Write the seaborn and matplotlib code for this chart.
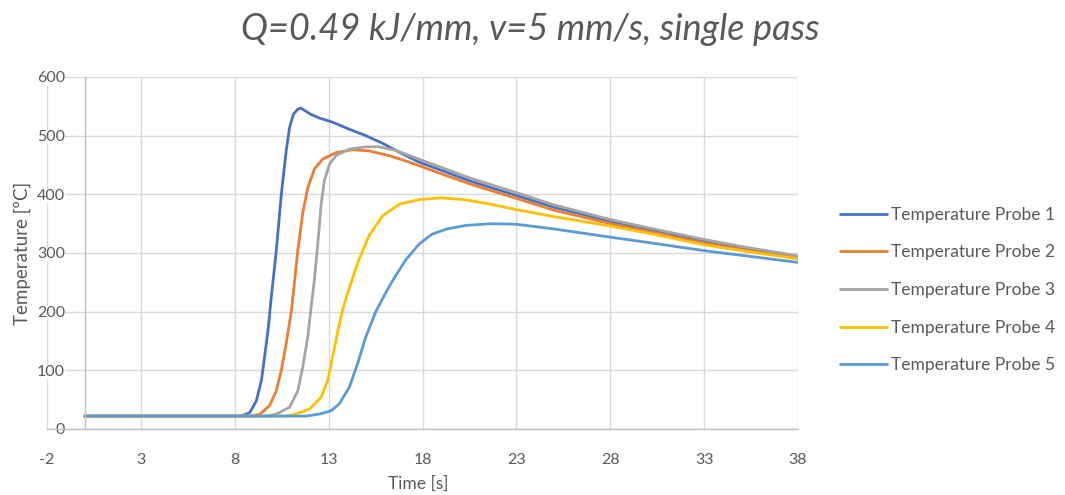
import numpy as np
import pandas as pd
import matplotlib
matplotlib.use("Agg")
import matplotlib.pyplot as plt
import seaborn as sns

# ---- data ----
series_names = ["Temperature Probe 1", "Temperature Probe 2", "Temperature Probe 3",
                "Temperature Probe 4", "Temperature Probe 5"]

t_probe1 = [0, 8.2, 8.5, 8.8, 9.15, 9.42, 9.59, 9.77, 9.95, 10.21, 10.48, 10.74, 10.92,
            11.13, 11.36, 11.5, 11.62, 12.07, 12.51, 13.21, 14.10, 14.98, 15.87, 16.75,
            17.81, 19, 20.5, 23, 25, 28, 30, 33, 35, 38]
T_probe1 = [22, 22, 24, 28, 48, 83, 123, 168, 226, 303, 400, 474, 514,
            537, 545, 547, 545, 536, 530, 523, 511, 500, 487, 472,
            455, 441, 423, 398, 378, 354, 340, 320, 309, 293]

t_probe2 = [0, 8.8, 9.33, 9.86, 10.21, 10.48, 10.74, 11.01, 11.18, 11.36, 11.62, 11.89,
            12.24, 12.68, 13.39, 14.27, 15.16, 16.22, 17.10, 17.81, 19, 20.5, 23, 25, 28,
            30, 33, 35, 38]
T_probe2 = [22, 22, 25, 40, 65, 100, 146, 200, 250, 305, 368, 411,
            443, 460, 471, 476, 474, 466, 457, 449, 435, 418, 393, 373, 350,
            337, 317, 306, 291]

t_probe3 = [0, 9.7, 10.21, 10.92, 11.36, 11.62, 11.89, 12.07, 12.24, 12.42, 12.60, 12.77,
            13.04, 13.39, 14.10, 14.98, 15.69, 16.57, 17.81, 19, 20.5, 23, 25, 28, 30, 33,
            35, 38]
T_probe3 = [22, 22, 25.5, 37, 65, 105, 157, 208, 254, 314, 383, 423,
            451, 466, 477, 481, 481, 475, 460, 446, 428, 403, 382, 357, 343, 323,
            311, 295]

t_probe4 = [0, 10.7, 11.27, 11.98, 12.60, 12.95, 13.21, 13.48, 13.74, 14.10, 14.36, 14.63,
            15.16, 15.87, 16.75, 17.81, 19.0, 20.2, 21.5, 23, 25, 28, 30, 33, 35, 38]
T_probe4 = [22, 22, 25.5, 34, 54, 83, 123, 165, 203, 240, 265, 290,
            330, 363, 383, 391, 394, 391, 384, 374, 362, 346, 334, 314, 304, 290]

t_probe5 = [0, 11.8, 12.51, 13.13, 13.57, 14.10, 14.54, 14.98, 15.51, 16.04, 16.39, 17.10,
            17.81, 18.5, 19.3, 20.3, 21.7, 23, 25, 28, 30, 33, 35, 38]
T_probe5 = [22, 22, 25.5, 31, 43, 71, 111, 157, 200, 232, 252, 288,
            315, 332, 341, 347, 350, 349, 341, 327, 318, 304, 296, 284]

x_ticks = [-2, 3, 8, 13, 18, 23, 28, 33, 38]
y_ticks = [0, 100, 200, 300, 400, 500, 600]

colors = ["#4472C4", "#ED7D31", "#A5A5A5", "#FFC000", "#5B9BD5"]

frames = []
for name, t, T in zip(series_names,
                      [t_probe1, t_probe2, t_probe3, t_probe4, t_probe5],
                      [T_probe1, T_probe2, T_probe3, T_probe4, T_probe5]):
    frames.append(pd.DataFrame({"Time": t, "Temperature": T, "Probe": name}))
df = pd.concat(frames, ignore_index=True)

# ---- style ----
sns.set_theme(style="white")
plt.rcParams["font.family"] = ["Lato", "DejaVu Sans"]
plt.rcParams["axes.unicode_minus"] = False
text_col = "#595959"

fig = plt.figure(figsize=(10.65, 4.95), dpi=100)
ax = fig.add_axes([47/1065, 1-429/495, 751/1065, 352/495])

sns.lineplot(data=df, x="Time", y="Temperature", hue="Probe", palette=colors,
             hue_order=series_names, sort=False, estimator=None, linewidth=2.0,
             solid_joinstyle="round", ax=ax)

ax.set_xlim(-2, 38)
ax.set_ylim(0, 600)
ax.set_xticks(x_ticks)
ax.set_yticks(y_ticks)
ax.grid(True, color="#D9D9D9", linewidth=1.0)
ax.set_axisbelow(True)

for s in ["top", "right"]:
    ax.spines[s].set_visible(False)
ax.spines["left"].set_position(("data", 0))
ax.spines["left"].set_color("#BFBFBF")
ax.spines["bottom"].set_color("#BFBFBF")
ax.spines["left"].set_linewidth(1.0)
ax.spines["bottom"].set_linewidth(1.0)

ax.tick_params(axis="x", length=0, pad=17, labelsize=11.5, labelcolor=text_col)
ax.tick_params(axis="y", length=0, pad=14, labelsize=11.5, labelcolor=text_col)
for lab in ax.get_yticklabels():
    lab.set_bbox(dict(facecolor="white", edgecolor="none", pad=0))

ax.set_xlabel("Time [s]", fontsize=12.5, color=text_col)
ax.set_ylabel("Temperature [ºC]", fontsize=13.5, color=text_col)
ax.xaxis.set_label_coords((418-47)/751, (429-484)/352)
ax.xaxis.label.set_va("center")
ax.yaxis.set_label_coords((22-47)/751, 0.5)
ax.yaxis.label.set_va("center")

fig.suptitle("Q=0.49 kJ/mm, v=5 mm/s, single pass", x=530/1065, y=1-30/495,
             va="center", fontsize=26, fontstyle="italic", fontweight="normal", color=text_col)

sns.move_legend(ax, loc="center left", bbox_to_anchor=(840/1065, 1-290/495),
                bbox_transform=fig.transFigure, frameon=False, title=None,
                fontsize=12.5, handlelength=2.7, handletextpad=0.25, labelspacing=1.25,
                borderpad=0, borderaxespad=0)
for t in ax.get_legend().get_texts():
    t.set_color(text_col)

fig.savefig("out.png", dpi=100)
